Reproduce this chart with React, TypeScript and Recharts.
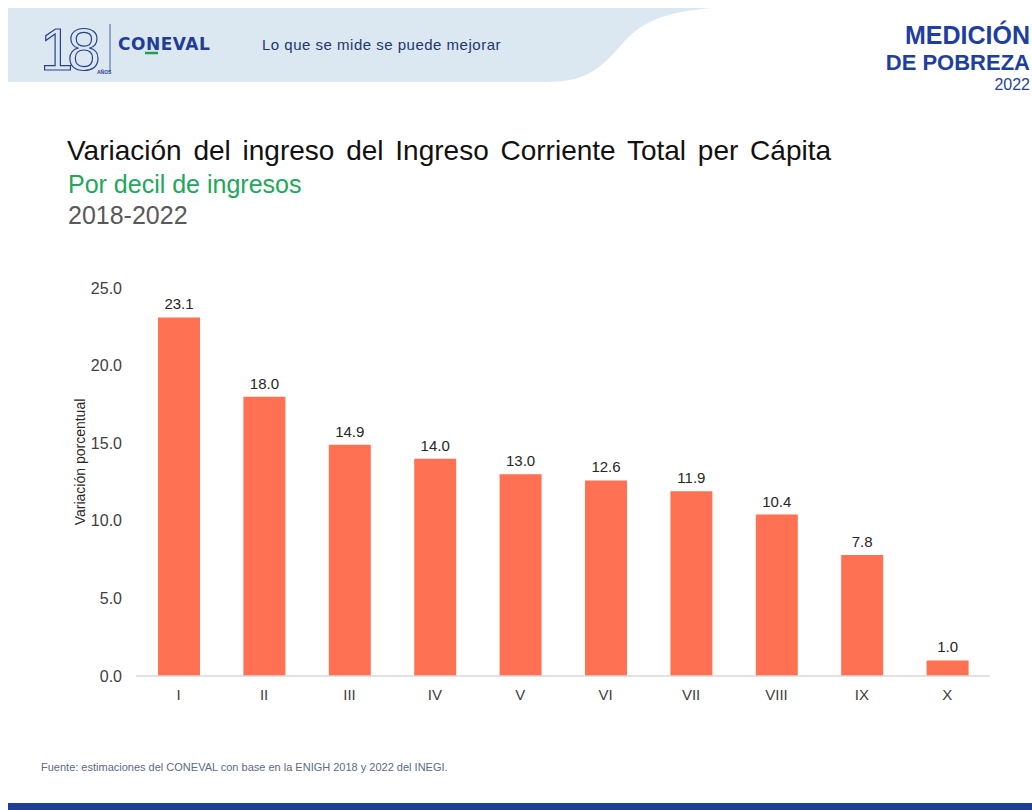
import React from "react";
import { Bar, BarChart, LabelList, XAxis, YAxis } from "recharts";

// Deciles de ingreso y variación porcentual 2018-2022
const deciles = ["I", "II", "III", "IV", "V", "VI", "VII", "VIII", "IX", "X"];
const variacion = [23.1, 18.0, 14.9, 14.0, 13.0, 12.6, 11.9, 10.4, 7.8, 1.0];
const yTicks = [0, 5, 10, 15, 20, 25];

const BAR_COLOR = "#ff7152";
const FONT = "Arial, 'Liberation Sans', Helvetica, sans-serif";

const chartData = deciles.map((d, i) => ({ decil: d, valor: variacion[i] }));

function Header() {
  return (
    <svg
      width={1032}
      height={100}
      style={{ position: "absolute", left: 0, top: 0 }}
    >
      <path
        d="M8 8 H713 C660 12 640 24 622 44 C600 70 585 82 545 82 H8 Z"
        fill="#dbe8f2"
      />
      {/* 18 años */}
      <text
        x={40}
        y={70}
        fontFamily={FONT}
        fontSize={60}
        fill="none"
        stroke="#2a3f8f"
        strokeWidth={1.2}
        letterSpacing={-6}
      >
        18
      </text>
      <text x={97} y={74} fontFamily={FONT} fontSize={5} fontWeight={700} fill="#2a3f8f">
        AÑOS
      </text>
      <line x1={110} y1={24} x2={110} y2={72} stroke="#2a3f8f" strokeWidth={0.8} />
      <text
        x={118}
        y={50}
        fontFamily="'DejaVu Sans', sans-serif"
        fontSize={17}
        fontWeight={700}
        fill="#1f3c96"
        letterSpacing={0.5}
      >
        CONEVAL
      </text>
      <line x1={145} y1={53} x2={158} y2={53} stroke="#1fa34a" strokeWidth={2.5} />
      <text
        x={262}
        y={50}
        fontFamily={FONT}
        fontSize={15}
        letterSpacing={0.5}
        fill="#23356f"
      >
        Lo que se mide se puede mejorar
      </text>
      {/* Medición de pobreza */}
      <text
        x={1030}
        y={44}
        textAnchor="end"
        fontFamily={FONT}
        fontSize={25}
        fontWeight={700}
        fill="#1e3fa0"
      >
        MEDICIÓN
      </text>
      <text
        x={1030}
        y={70}
        textAnchor="end"
        fontFamily={FONT}
        fontSize={22}
        fontWeight={700}
        fill="#1e3fa0"
      >
        DE POBREZA
      </text>
      <text
        x={1030}
        y={90}
        textAnchor="end"
        fontFamily={FONT}
        fontSize={16}
        fill="#1e3fa0"
      >
        2022
      </text>
    </svg>
  );
}

export default function App() {
  return (
    <div
      style={{
        position: "absolute",
        left: 0,
        top: 0,
        width: 1032,
        height: 810,
        background: "#ffffff",
        fontFamily: FONT,
        overflow: "hidden",
      }}
    >
      <Header />
      <div
        style={{
          position: "absolute",
          left: 67,
          top: 135,
          fontSize: 28,
          wordSpacing: 4,
          color: "#111111",
          whiteSpace: "nowrap",
          lineHeight: "32px",
        }}
      >
        Variación del ingreso del Ingreso Corriente Total per Cápita
      </div>
      <div
        style={{
          position: "absolute",
          left: 68,
          top: 169,
          fontSize: 25,
          color: "#22a65a",
          lineHeight: "30px",
          whiteSpace: "nowrap",
        }}
      >
        Por decil de ingresos
      </div>
      <div
        style={{
          position: "absolute",
          left: 68,
          top: 200,
          fontSize: 25,
          color: "#595959",
          lineHeight: "30px",
        }}
      >
        2018-2022
      </div>

      <div style={{ position: "absolute", left: 60, top: 270 }}>
        <BarChart
          width={950}
          height={440}
          data={chartData}
          margin={{ top: 18, right: 20, left: 0, bottom: 4 }}
        >
          <XAxis
            dataKey="decil"
            axisLine={{ stroke: "#d9d9d9", strokeWidth: 1.5 }}
            tickLine={false}
            tickSize={0}
            tickMargin={13}
            height={30}
            tick={{ fontSize: 15, fill: "#404040", fontFamily: FONT }}
          />
          <YAxis
            width={76}
            domain={[0, 25]}
            ticks={yTicks}
            interval={0}
            axisLine={false}
            tickLine={false}
            tickSize={0}
            tickMargin={14}
            tickFormatter={(v: number) => v.toFixed(1)}
            tick={{ fontSize: 16, fill: "#404040", fontFamily: FONT }}
            label={{
              content: ({ viewBox }: any) => {
                const cy = viewBox.y + viewBox.height / 2 - 20;
                return (
                  <text
                    x={20}
                    y={cy}
                    transform={`rotate(-90 20 ${cy})`}
                    textAnchor="middle"
                    dominantBaseline="central"
                    fontSize={14}
                    fontFamily={FONT}
                    fill="#262626"
                  >
                    Variación porcentual
                  </text>
                );
              },
            }}
          />
          <Bar
            dataKey="valor"
            fill={BAR_COLOR}
            barSize={42}
            isAnimationActive={false}
          >
            <LabelList
              dataKey="valor"
              position="top"
              offset={8}
              formatter={(v: any) => Number(v).toFixed(1)}
              style={{ fontSize: 15, fill: "#262626", fontFamily: FONT }}
            />
          </Bar>
        </BarChart>
      </div>

      <div
        style={{
          position: "absolute",
          left: 41,
          top: 761,
          fontSize: 11,
          color: "#5b6b82",
          whiteSpace: "nowrap",
        }}
      >
        Fuente: estimaciones del CONEVAL con base en la ENIGH 2018 y 2022 del INEGI.
      </div>
      <div
        style={{
          position: "absolute",
          left: 8,
          top: 803,
          width: 1024,
          height: 7,
          background: "#1f3f93",
        }}
      />
    </div>
  );
}
